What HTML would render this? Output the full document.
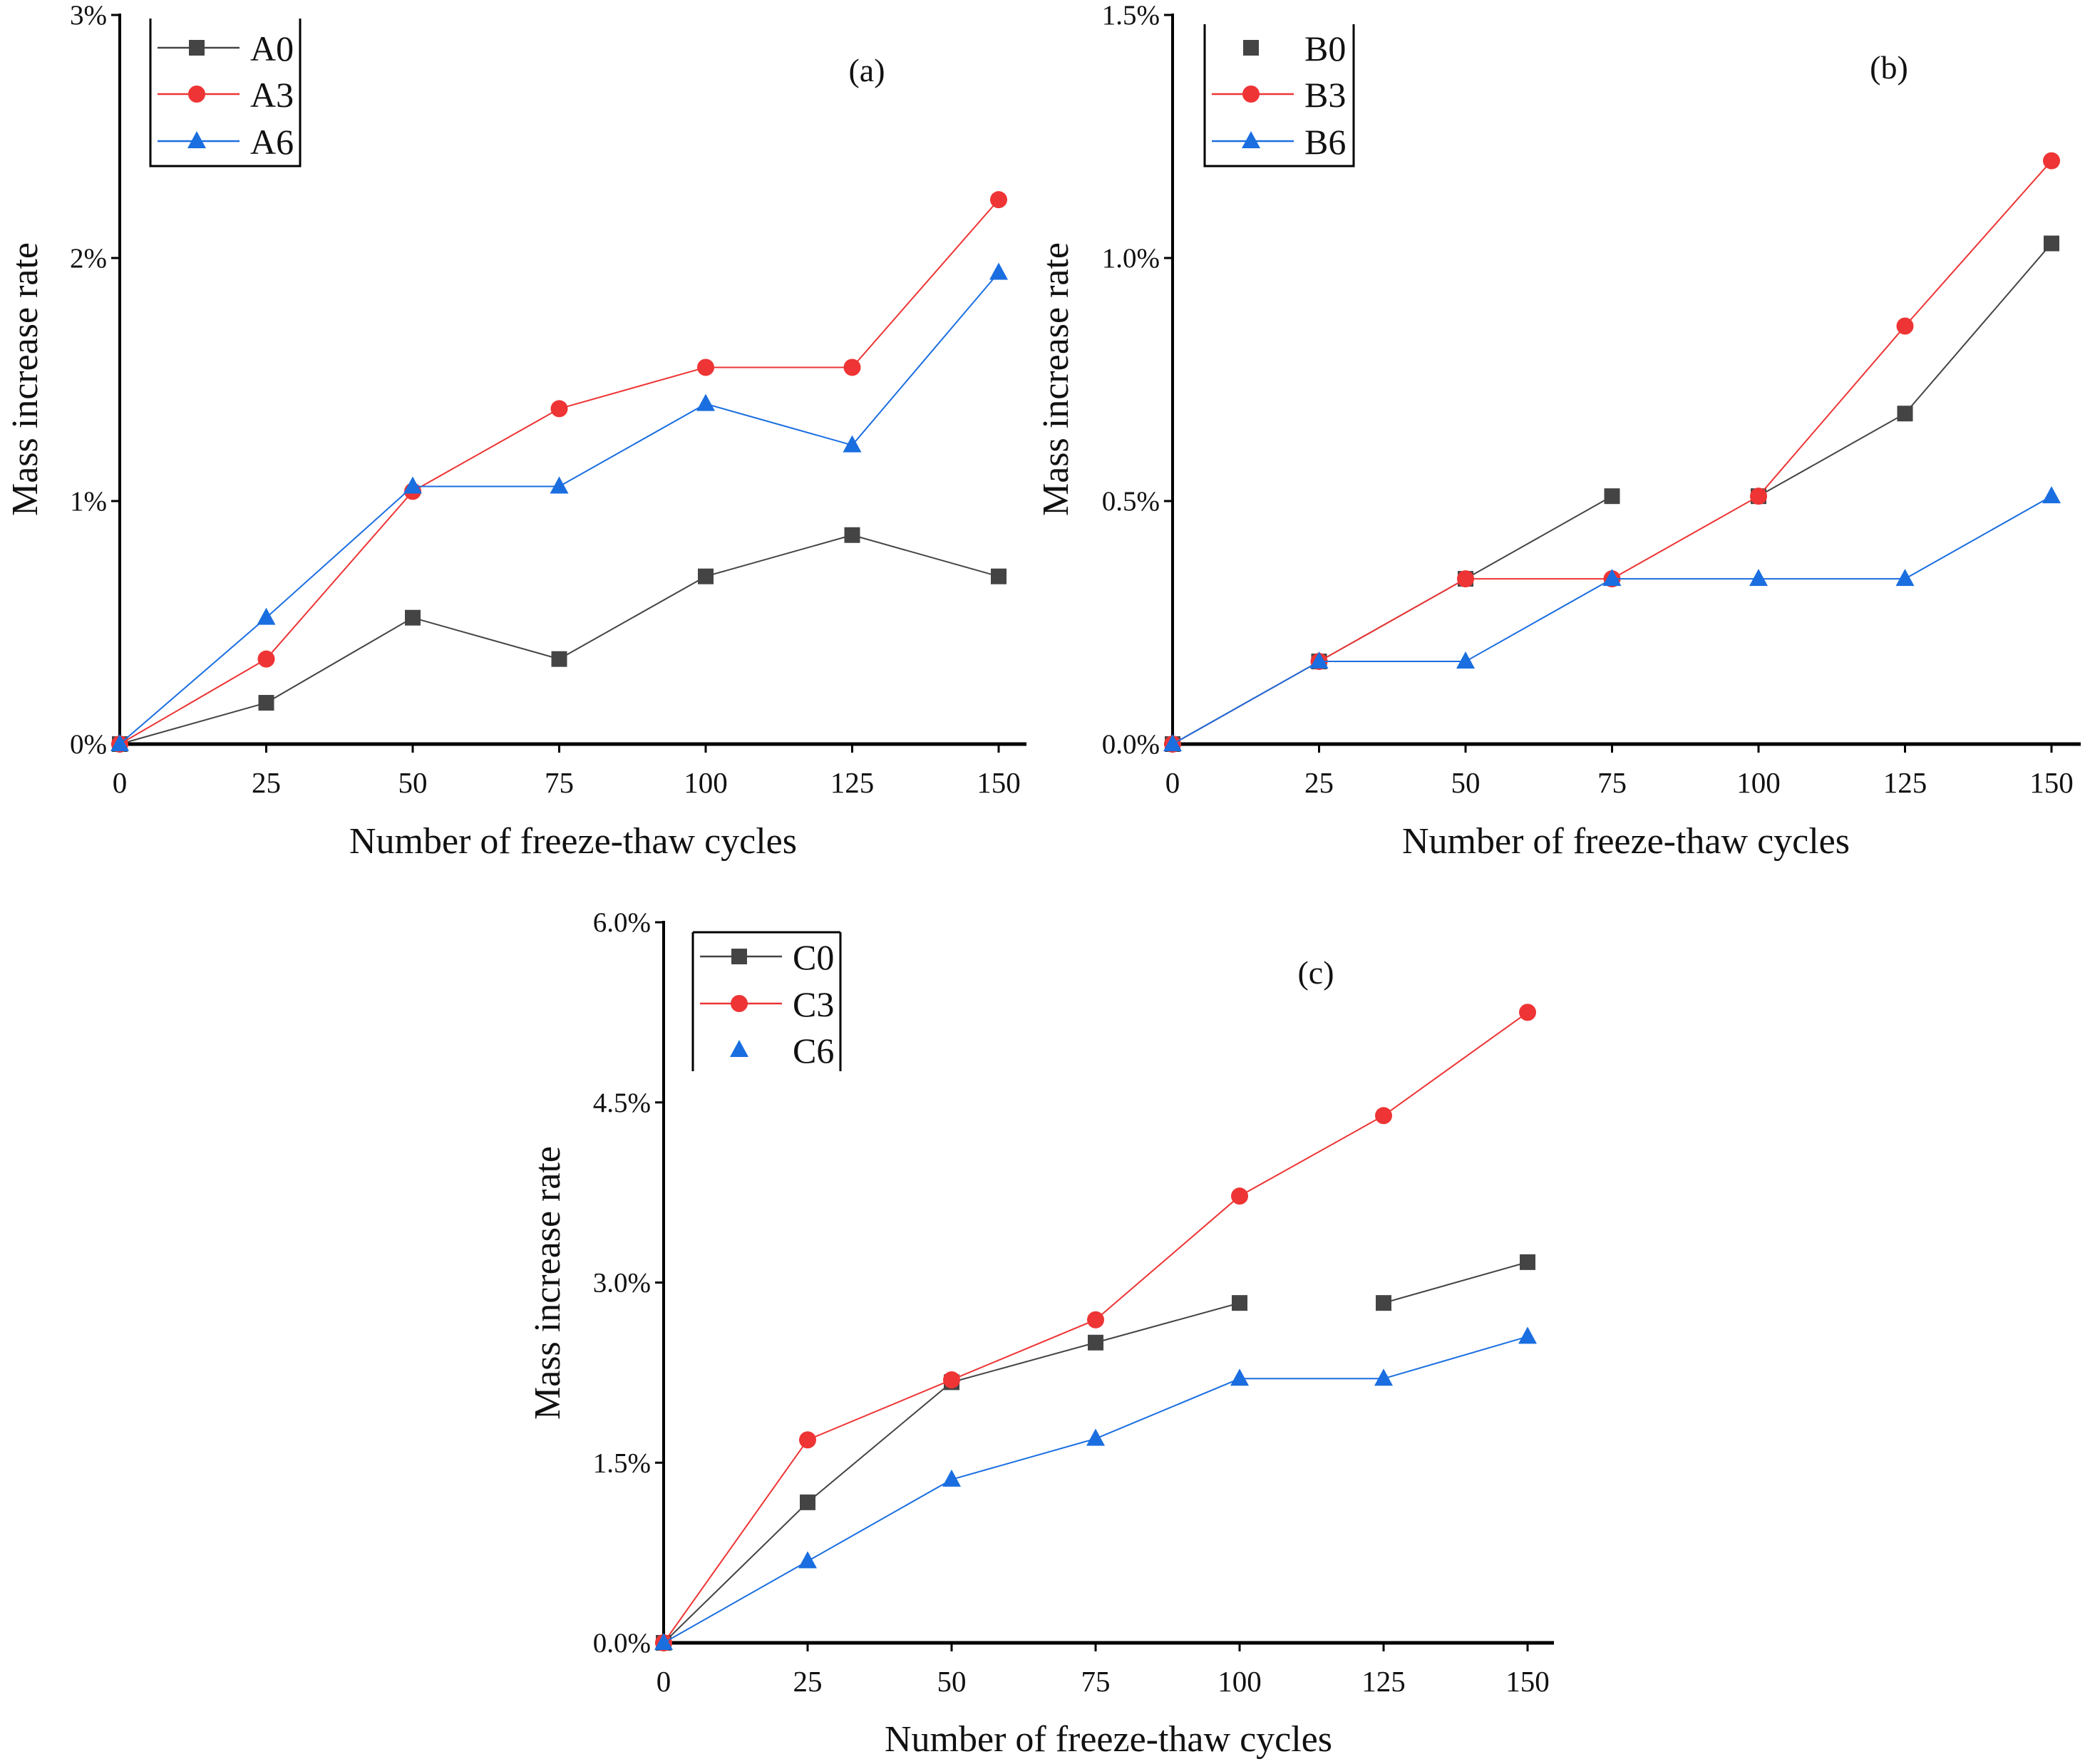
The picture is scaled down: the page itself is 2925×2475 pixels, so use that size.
<!DOCTYPE html>
<html><head><meta charset="utf-8"><style>
html,body{margin:0;padding:0;background:#fff}
svg{display:block}
text{font-family:"Liberation Serif",serif;fill:#111}
</style></head><body>
<svg id="fig" width="2925" height="2475" viewBox="0 0 2925 2475" xmlns="http://www.w3.org/2000/svg">
<rect x="0" y="0" width="2925" height="2475" fill="#fff"/>
</svg>
<script>
const categories = [0, 25, 50, 75, 100, 125, 150];
const a0 = [0, 0.17, 0.52, 0.35, 0.69, 0.86, 0.69];
const a3 = [0, 0.35, 1.04, 1.38, 1.55, 1.55, 2.24];
const a6 = [0, 0.52, 1.06, 1.06, 1.40, 1.23, 1.94];
const b0 = [0, 0.17, 0.34, 0.51, 0.51, 0.68, 1.03];
const b3 = [0, 0.17, 0.34, 0.34, 0.51, 0.86, 1.20];
const b6 = [0, 0.17, 0.17, 0.34, 0.34, 0.34, 0.51];
const c0 = [0, 1.17, 2.17, 2.50, 2.83, 2.83, 3.17];
const c3 = [0, 1.69, 2.19, 2.69, 3.72, 4.39, 5.25];
const c6 = [0, 0.68, 1.36, 1.70, 2.20, 2.20, 2.55];
const b0Breaks = [3];
const c0Breaks = [4];
const aTicks = [0, 1, 2, 3];
const aTickLabels = ["0%", "1%", "2%", "3%"];
const bTicks = [0, 0.5, 1.0, 1.5];
const bTickLabels = ["0.0%", "0.5%", "1.0%", "1.5%"];
const cTicks = [0, 1.5, 3.0, 4.5, 6.0];
const cTickLabels = ["0.0%", "1.5%", "3.0%", "4.5%", "6.0%"];

const NS = "http://www.w3.org/2000/svg";
const svg = document.getElementById("fig");
function mk(tag, attrs, parent) {
  const e = document.createElementNS(NS, tag);
  for (const k in attrs) e.setAttribute(k, attrs[k]);
  (parent || svg).appendChild(e);
  return e;
}
const COL = {k: "#444", r: "#ee3434", b: "#1a6ee0"};
function marker(g, type, x, y, color) {
  let m;
  if (type === "sq") m = mk("rect", {x: x - 11, y: y - 11, width: 22, height: 22, fill: color}, g);
  else if (type === "ci") m = mk("circle", {cx: x, cy: y, r: 12, fill: color}, g);
  else m = mk("polygon", {points: `${x},${y - 14} ${x + 13},${y + 10} ${x - 13},${y + 10}`, fill: color}, g);
  return m;
}
function panel(p) {
  const g = mk("g", {});
  
  
  const xs = v => p.x0 + (v - 0) / 150 * (p.x1 - p.x0);
  const ys = v => p.y0 - v / p.ymax * (p.y0 - p.ytop);
  const ya = mk("line", {x1: p.x0, y1: p.ytop - 2, x2: p.x0, y2: p.y0 + 2, stroke: "#000", "stroke-width": 4}, g);
  
  
  const xa = mk("line", {x1: p.x0 - 2, y1: p.y0, x2: p.xend, y2: p.y0, stroke: "#000", "stroke-width": 5}, g);
  
  
  categories.forEach(c => {
    mk("line", {x1: xs(c), y1: p.y0, x2: xs(c), y2: p.y0 + 12, stroke: "#000", "stroke-width": 3}, g);
    const t = mk("text", {x: xs(c), y: p.y0 + 68, "font-size": 41, "text-anchor": "middle"}, g);
    t.textContent = c;
    
    
  });
  p.ticks.forEach((v, i) => {
    mk("line", {x1: p.x0 - 12, y1: ys(v), x2: p.x0, y2: ys(v), stroke: "#000", "stroke-width": 3}, g);
    const t = mk("text", {x: p.x0 - 18, y: ys(v) + 13, "font-size": 39, "text-anchor": "end"}, g);
    t.textContent = p.labels[i];
    
    
  });
  const xt = mk("text", {x: p.xtx, y: p.xty, "font-size": 52, "text-anchor": "middle"}, g);
  xt.textContent = "Number of freeze-thaw cycles";
  
  
  const yt = mk("text", {x: 0, y: 0, "font-size": 52, "text-anchor": "middle", transform: `translate(${p.ytx},${p.yty}) rotate(-90)`}, g);
  yt.textContent = "Mass increase rate";
  
  
  const pl = mk("text", {x: p.plx, y: p.ply, "font-size": 46, "text-anchor": "middle"}, g);
  pl.textContent = p.tag;
  
  
  p.series.forEach(s => {
    const brk = s.breaks || [];
    for (let i = 0; i < categories.length - 1; i++) {
      if (brk.includes(i)) continue;
      const l = mk("line", {x1: xs(categories[i]), y1: ys(s.v[i]), x2: xs(categories[i + 1]), y2: ys(s.v[i + 1]), stroke: s.c, "stroke-width": 2}, g);
      
      
    }
    s.v.forEach((v, i) => {
      const m = marker(g, s.m, xs(categories[i]), ys(v), s.c);
      
      
    });
  });
  const L = p.leg;
  const lg = mk("g", {}, g);
  
  
  mk("path", {d: L.bottom ? `M${L.x0},${L.y0} V${L.y1} H${L.x1} V${L.y0}` : `M${L.x0},${L.y0} V${L.y1} M${L.x1},${L.y0} V${L.y1} M${L.x0},${L.y0} H${L.x1}`, fill: "none", stroke: "#000", "stroke-width": 3}, lg);
  p.series.forEach((s, i) => {
    const y = L.rows[i];
    if (!L.noLine || !L.noLine.includes(i)) mk("line", {x1: L.x0 + 10, y1: y, x2: L.x0 + 125, y2: y, stroke: s.c, "stroke-width": 2.5}, lg);
    marker(lg, s.m, L.x0 + 65, y, s.c);
    const t = mk("text", {x: L.x0 + 140, y: y + 18, "font-size": 50}, lg);
    t.textContent = s.name;
    
    
  });
}
panel({id: "panel-a", tag: "(a)", x0: 168, x1: 1401, xend: 1440, y0: 1044, ytop: 21, ymax: 3, ticks: aTicks, labels: aTickLabels,
  xtx: 804, xty: 1197, ytx: 52, yty: 532, plx: 1216, ply: 114,
  leg: {x0: 211, x1: 421, y0: 26, y1: 233, bottom: true, rows: [67, 132, 198]},
  series: [{name: "A0", v: a0, c: COL.k, m: "sq"}, {name: "A3", v: a3, c: COL.r, m: "ci"}, {name: "A6", v: a6, c: COL.b, m: "tr"}]});
panel({id: "panel-b", tag: "(b)", x0: 1645, x1: 2878, xend: 2919, y0: 1044, ytop: 21, ymax: 1.5, ticks: bTicks, labels: bTickLabels,
  xtx: 2281, xty: 1197, ytx: 1498, yty: 532, plx: 2650, ply: 110,
  leg: {x0: 1690, x1: 1899, y0: 34, y1: 233, bottom: true, rows: [67, 132, 198], noLine: [0]},
  series: [{name: "B0", v: b0, c: COL.k, m: "sq", breaks: b0Breaks}, {name: "B3", v: b3, c: COL.r, m: "ci"}, {name: "B6", v: b6, c: COL.b, m: "tr"}]});
panel({id: "panel-c", tag: "(c)", x0: 931, x1: 2143, xend: 2180, y0: 2305, ytop: 1294, ymax: 6, ticks: cTicks, labels: cTickLabels,
  xtx: 1555, xty: 2457, ytx: 785, yty: 1800, plx: 1846, ply: 1380,
  leg: {x0: 972, x1: 1179, y0: 1308, y1: 1503, bottom: false, rows: [1342, 1408, 1473], noLine: [2]},
  series: [{name: "C0", v: c0, c: COL.k, m: "sq", breaks: c0Breaks}, {name: "C3", v: c3, c: COL.r, m: "ci"}, {name: "C6", v: c6, c: COL.b, m: "tr"}]});
</script>
</body></html>
